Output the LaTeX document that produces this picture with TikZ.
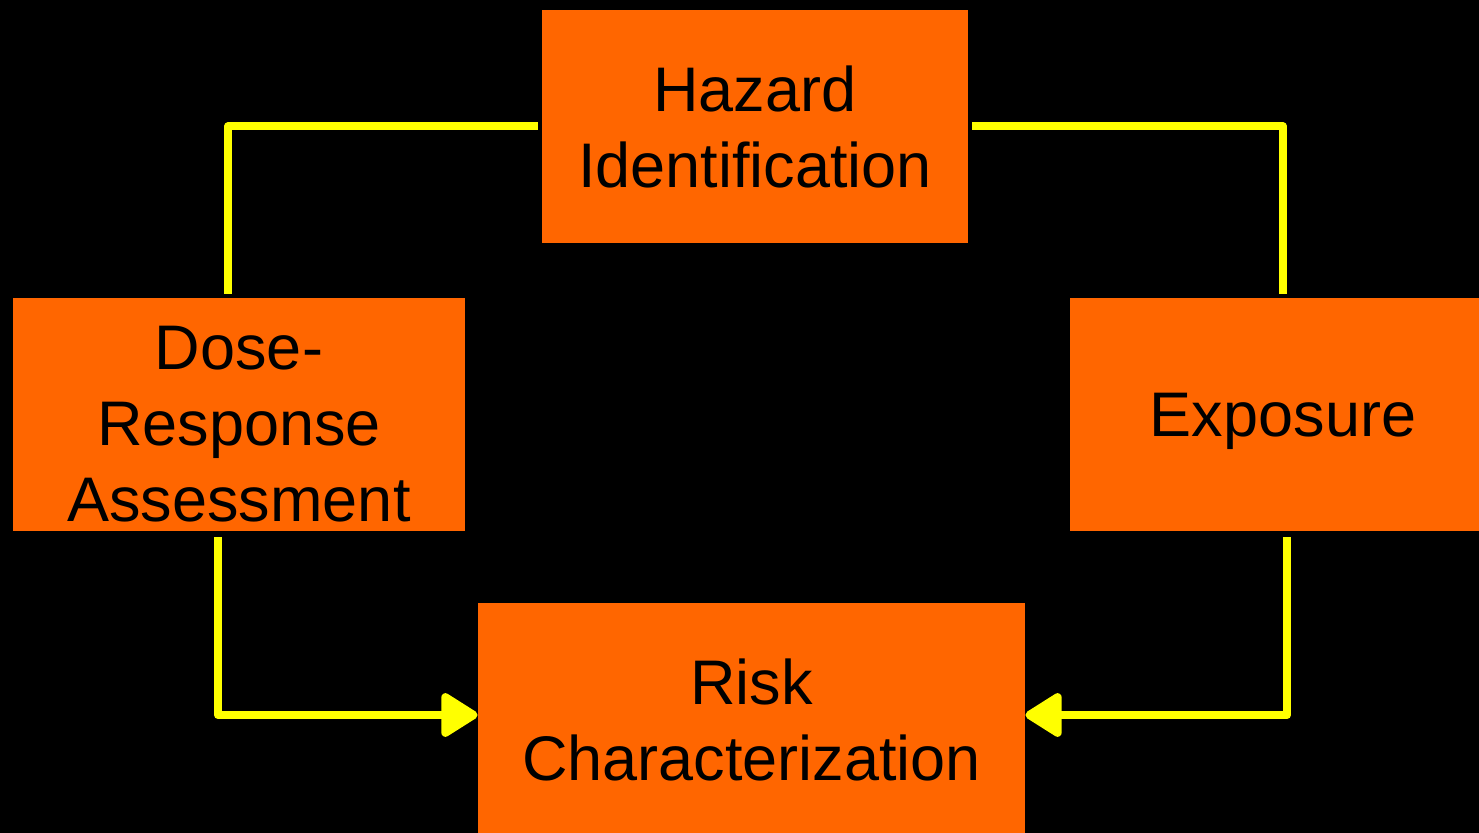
\documentclass[tikz,border=0pt]{standalone}
\usepackage{fontspec}
\setmainfont{Liberation Sans}
\usetikzlibrary{arrows.meta}
\definecolor{boxorange}{HTML}{FF6600}
\definecolor{wireyellow}{HTML}{FFFF00}
\tikzset{
  stage/.style={fill=boxorange, minimum height=116.5pt, inner sep=0pt, align=center,
    font=\fontsize{31.5}{38}\selectfont},
  wire/.style={draw=wireyellow, line width=4pt, line join=round},
  flow/.style={wire, -{Triangle[length=20pt, width=24pt, round]}}
}
\begin{document}
\begin{tikzpicture}[x=0.5pt, y=-0.5pt]
  \useasboundingbox (0,0) rectangle (1479,833);
  \fill[black] (0,0) rectangle (1479,833);
  \clip (0,0) rectangle (1479,833);
  % the four stages
  \node[stage, minimum width=213pt] (haz) at (755,126.5) {Hazard\\Identification};
  \node[stage, minimum width=226pt] (dose) at (239,414.5) {\rule{0pt}{31pt}Dose-\\Response\\Assessment};
  \node[stage, minimum width=213pt, text depth=0pt] (expo) at (1283,414.5) {Exposure};
  \node[stage, minimum width=273.5pt] (risk) at (751.5,720) {Risk\\Characterization};
  % links
  \draw[wire] ([xshift=-2pt]haz.west) -| ([xshift=-5.5pt, yshift=2pt]dose.north);
  \draw[wire] ([xshift=2pt]haz.east) -| ([yshift=2pt]expo.north);
  \draw[flow] ([xshift=-10.5pt, yshift=-3pt]dose.south) |- ([yshift=2.5pt]risk.west);
  \draw[flow] ([xshift=2pt, yshift=-3pt]expo.south) |- ([yshift=2.5pt]risk.east);
\end{tikzpicture}
\end{document}
